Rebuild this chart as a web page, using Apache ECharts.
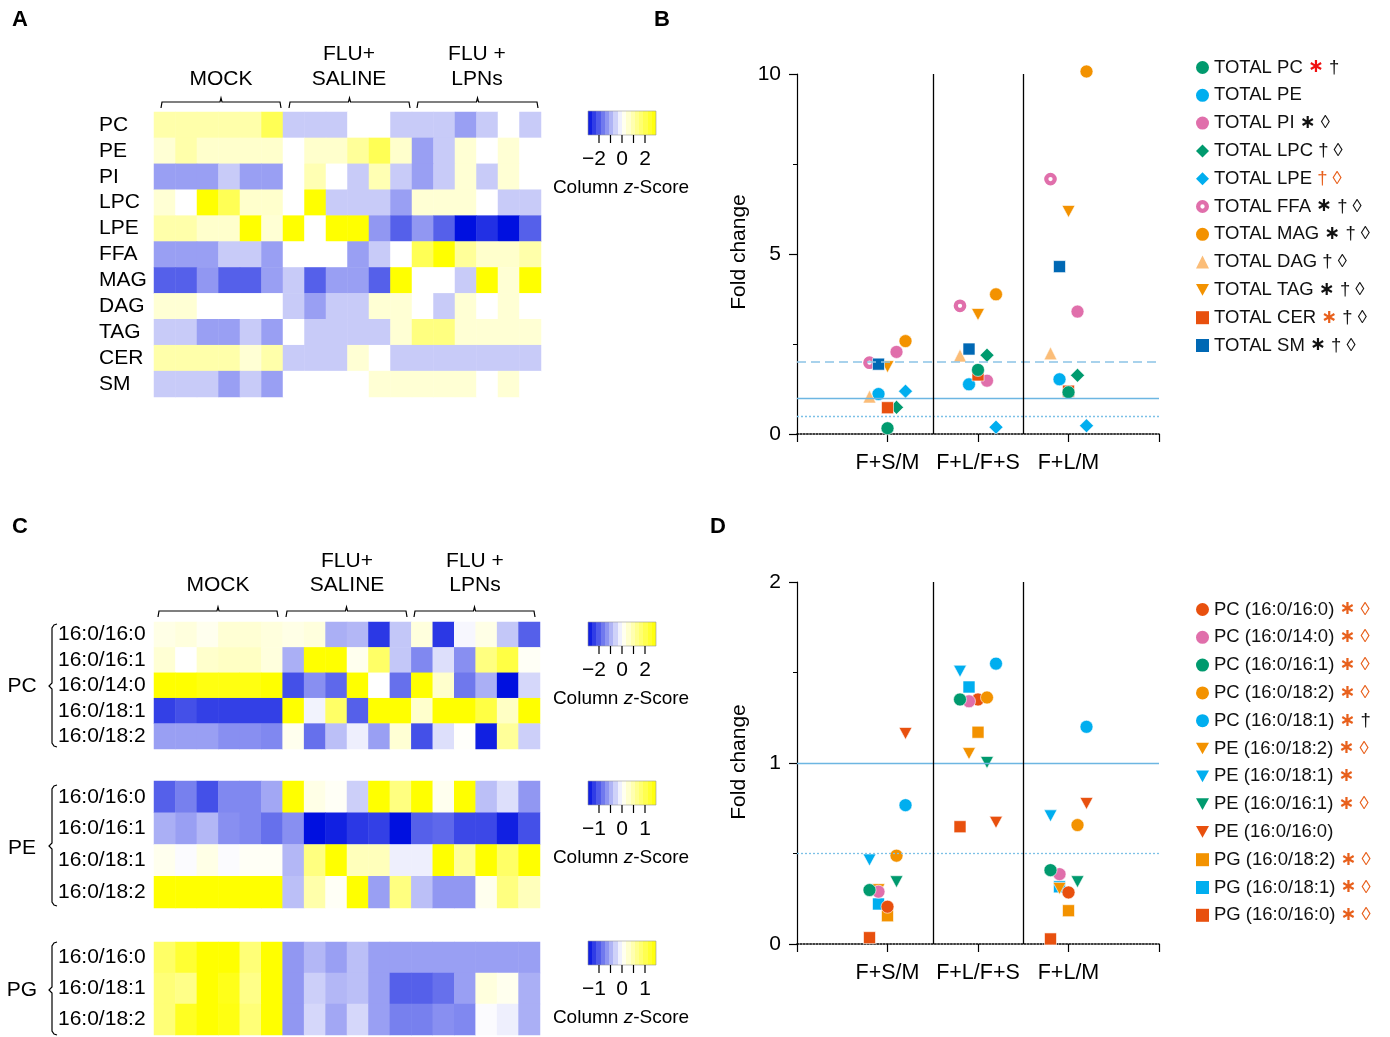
<!DOCTYPE html>
<html><head><meta charset="utf-8">
<script src="https://cdn.jsdelivr.net/npm/echarts@6/dist/echarts.min.js"></script>
<style>html,body{margin:0;padding:0;background:#fff}#c{width:1390px;height:1037px}</style>
</head><body><div id="c"></div>
<script>
const FONT = "'Liberation Sans', Arial, Helvetica, sans-serif";

// ---------- DATA ----------
const samples = ['M1','M2','M3','M4','M5','M6','S1','S2','S3','S4','S5','S6','L1','L2','L3','L4','L5','L6'];
const groupHeaders = ['MOCK', 'FLU+\nSALINE', 'FLU +\nLPNs'];

// Panel A: lipid classes, column z-scores
const classRows = ['PC','PE','PI','LPC','LPE','FFA','MAG','DAG','TAG','CER','SM'];
const zPC  = [1,1,1,1,1,2, -0.65,-0.65,-0.65,0,0,-0.65, -0.65,-0.65,-1.2,-0.65,0,-0.65];
const zPE  = [0.5,1,0.6,0.6,0.6,0.6, 0,0.6,0.6,1.2,2,0.6, -1.2,-0.65,0.5,0,0.5,0];
const zPI  = [-1.2,-1.2,-1.2,-0.65,-1.2,-1.2, 0,0.9,0,-0.65,0.9,-0.65, -1.2,-0.65,0.5,-0.65,0.5,0];
const zLPC = [0.5,0,3,2,0.6,0.6, 0,3,-0.65,-0.65,-0.65,-1.2, 0.5,0.5,0.5,0,-0.65,-0.65];
const zLPE = [1,1,0.6,0.6,3,0.5, 3,0,3,3,-1.3,-2, -1.3,-2,-3,-2.6,-3,-2];
const zFFA = [-1.2,-1.2,-1.2,-0.65,-0.65,-1.2, 0,0,0,-1.2,-0.65,0, 2,3,1.2,0.6,0.6,1];
const zMAG = [-2,-2,-1.3,-2,-2,-1.2, -0.65,-2,-1.2,-1.2,-2,3, 0,0,-0.65,3,0.5,3];
const zDAG = [0.5,0.5,0,0,0,0, -0.65,-1.2,-0.65,-0.65,0.5,0.5, 0,-0.65,0.5,0,0.5,0];
const zTAG = [-0.65,-0.65,-1.2,-1.2,-0.65,-1.2, 0,-0.65,-0.65,-0.65,-0.65,0.5, 1.5,1.5,0.5,0.5,0.5,0.5];
const zCER = [1,1,1,1,0.5,1, -0.65,-0.65,-0.65,0.5,0,-0.65, -0.65,-0.65,-0.65,-0.65,-0.65,-0.65];
const zSM  = [-0.65,-0.65,-0.65,-1.2,-0.65,-1.2, 0,0,0,0,0.5,0.5, 0.5,0.5,0.5,0,0.5,0];

// Panel C: species
const pcSpecies = ['16:0/16:0','16:0/16:1','16:0/14:0','16:0/18:1','16:0/18:2'];
const zPC1 = [0.3,0.4,0.2,0.5,0.5,0.4, 0.3,0.4,-1.0,-0.9,-2.5,-0.7, 0.4,-2.5,-0.1,0.3,-0.7,-2.0];
const zPC2 = [0.5,0,0.6,0.7,0.7,0.4, -1.0,3,3,0.2,1.8,-0.7, -1.5,-0.4,-1.4,1.5,2.2,0.1];
const zPC3 = [3,3,2.8,2.8,2.8,3, -2.2,-1.4,-1.9,3,0,-1.8, 3,0.6,-1.7,-1.0,-3,-0.5];
const zPC4 = [-2.4,-2.2,-2.4,-2.4,-2.4,-2.4, 3,-0.15,1.8,-2.0,3,3, 0.6,3,3,2.2,0.7,3];
const zPC5 = [-1.2,-1.2,-1.2,-1.4,-1.4,-1.5, 0.2,-1.8,-0.8,-0.2,-1.2,0.5, -2.2,-0.4,0.05,-2.8,1.2,-0.6];
const peSpecies = ['16:0/16:0','16:0/16:1','16:0/18:1','16:0/18:2'];
const zPE1 = [-2.0,-1.6,-2.2,-1.5,-1.5,-1.1, 3,0.3,0.1,-0.6,3,1.5, 3,0.2,3,-0.8,-0.4,-1.3];
const zPE2 = [-1.0,-1.2,-0.9,-1.4,-1.5,-1.8, -1.4,-3,-2.8,-2.5,-2.4,-3, -2.0,-1.9,-2.3,-2.3,-2.8,-2.2];
const zPE3 = [0.2,-0.05,0.3,-0.05,0.1,0.1, -0.9,1.5,3,0.8,0.8,-0.2, -0.2,3,1.2,3,1.8,3];
const zPE4 = [3,3,3,3,3,3, -0.8,1.0,0.1,3,-1.2,1.5, -0.8,-1.3,-1.3,0.2,1.5,0.8];
const pgSpecies = ['16:0/16:0','16:0/18:1','16:0/18:2'];
const zPG1 = [1.8,2.4,3,3,1.6,3, -1.3,-0.9,-1.2,-0.8,-1.2,-1.2, -1.2,-1.2,-1.2,-1.2,-1.2,-1.2];
const zPG2 = [1.6,1.4,3,2.7,1.4,3, -1.3,-0.6,-0.9,-0.8,-1.2,-2.0, -2.0,-1.8,-1.2,0.4,0.2,-1.0];
const zPG3 = [1.6,2.6,3,2.8,1.6,3, -1.3,-0.5,-1.1,-0.5,-1.2,-1.6, -1.6,-1.4,-1.5,-0.05,-0.2,-1.0];
const zTicksAB = ['\u22122','0','2'];
const zTicksPE = ['\u22121','0','1'];

// Panels B / D: fold changes
const foldGroups = ['F+S/M','F+L/F+S','F+L/M'];
const namesB = ['TOTAL PC','TOTAL PE','TOTAL PI','TOTAL LPC','TOTAL LPE','TOTAL FFA','TOTAL MAG','TOTAL DAG','TOTAL TAG','TOTAL CER','TOTAL SM'];
const fcTotalPC  = [0.16, 1.78, 1.16];
const fcTotalPE  = [1.11, 1.38, 1.52];
const fcTotalPI  = [2.28, 1.48, 3.40];
const fcTotalLPC = [0.74, 2.19, 1.63];
const fcTotalLPE = [1.19, 0.19, 0.23];
const fcTotalFFA = [1.98, 3.56, 7.08];
const fcTotalMAG = [2.58, 3.88, 10.07];
const fcTotalDAG = [1.04, 2.18, 2.24];
const fcTotalTAG = [1.87, 3.32, 6.18];
const fcTotalCER = [0.73, 1.64, 1.19];
const fcTotalSM  = [1.94, 2.36, 4.65];
const marksB = [' {red|\u2217} \u2020', '', ' {k|\u2217} \u25CA', ' \u2020 \u25CA', ' {ol|\u2020 \u25CA}', ' {k|\u2217} \u2020 \u25CA', ' {k|\u2217} \u2020 \u25CA', ' \u2020 \u25CA', ' {k|\u2217} \u2020 \u25CA', ' {or|\u2217} \u2020 \u25CA', ' {k|\u2217} \u2020 \u25CA'];

const namesD = ['PC (16:0/16:0)','PC (16:0/14:0)','PC (16:0/16:1)','PC (16:0/18:2)','PC (16:0/18:1)','PE (16:0/18:2)','PE (16:0/18:1)','PE (16:0/16:1)','PE (16:0/16:0)','PG (16:0/18:2)','PG (16:0/18:1)','PG (16:0/16:0)'];
const fcPC160160 = [0.206, 1.351, 0.285];
const fcPC160140 = [0.289, 1.341, 0.386];
const fcPC160161 = [0.298, 1.351, 0.408];
const fcPC160182 = [0.488, 1.362, 0.657];
const fcPC160181 = [0.767, 1.549, 1.200];
const fcPE160182 = [0.300, 1.052, 0.307];
const fcPE160181 = [0.464, 1.507, 0.708];
const fcPE160161 = [0.344, 1.003, 0.344];
const fcPE160160 = [1.163, 0.672, 0.776];
const fcPG160182 = [0.156, 1.170, 0.184];
const fcPG160181 = [0.221, 1.420, 0.316];
const fcPG160160 = [0.035, 0.648, 0.028];
const marksD = [' {or|\u2217} {ol|\u25CA}',' {or|\u2217} {ol|\u25CA}',' {or|\u2217} {ol|\u25CA}',' {or|\u2217} {ol|\u25CA}',' {or|\u2217} \u2020',' {or|\u2217} {ol|\u25CA}',' {or|\u2217}',' {or|\u2217} {ol|\u25CA}','',' {or|\u2217} {ol|\u25CA}',' {or|\u2217} {ol|\u25CA}',' {or|\u2217} {ol|\u25CA}'];

// ---------- STYLE ----------
const C = {green:'#009a6e', cyan:'#00aeef', pink:'#e06fab', orange:'#f39200', lorange:'#fbbd78', red:'#e8500e', blue:'#0068b4'};
const DOWN = 'path://M0,0L10,0L5,9Z';
const RING = 'path://M6,0A6,6 0 1,1 6,12A6,6 0 1,1 6,0ZM6,4A2,2 0 1,0 6,8A2,2 0 1,0 6,4Z';
const stylesB = [
  {c:C.green, s:'circle', z:13, slot:0},
  {c:C.cyan, s:'circle', z:13, slot:-1},
  {c:C.pink, s:'circle', z:13, slot:1},
  {c:C.green, s:'diamond', z:14, slot:1},
  {c:C.cyan, s:'diamond', z:14, slot:2},
  {c:C.pink, s:'circle', z:8.5, slot:-2, ring:true},
  {c:C.orange, s:'circle', z:13, slot:2},
  {c:C.lorange, s:'triangle', z:13, slot:-2},
  {c:C.orange, s:DOWN, z:[13,12], slot:0},
  {c:C.red, s:'rect', z:12, slot:0},
  {c:C.blue, s:'rect', z:12, slot:-1}
];
const drawOrderB = [1,2,3,4,5,6,7,8,9,10,0];
const stylesD = [
  {c:C.red, s:'circle', z:13, slot:0},
  {c:C.pink, s:'circle', z:13, slot:-1},
  {c:C.green, s:'circle', z:13, slot:-2},
  {c:C.orange, s:'circle', z:13, slot:1},
  {c:C.cyan, s:'circle', z:13, slot:2},
  {c:C.orange, s:DOWN, z:[13,12], slot:-1},
  {c:C.cyan, s:DOWN, z:[13,12], slot:-2},
  {c:C.green, s:DOWN, z:[13,12], slot:1},
  {c:C.red, s:DOWN, z:[13,12], slot:2},
  {c:C.orange, s:'rect', z:12, slot:0},
  {c:C.cyan, s:'rect', z:12, slot:-1},
  {c:C.red, s:'rect', z:12, slot:-2}
];
const drawOrderD = [9,10,11,5,6,7,8,0,1,2,3,4];

const valuesB = [fcTotalPC,fcTotalPE,fcTotalPI,fcTotalLPC,fcTotalLPE,fcTotalFFA,fcTotalMAG,fcTotalDAG,fcTotalTAG,fcTotalCER,fcTotalSM];
const valuesD = [fcPC160160,fcPC160140,fcPC160161,fcPC160182,fcPC160181,fcPE160182,fcPE160181,fcPE160161,fcPE160160,fcPG160182,fcPG160181,fcPG160160];

const heatBlocks = [
  {rows: classRows, z:[zPC,zPE,zPI,zLPC,zLPE,zFFA,zMAG,zDAG,zTAG,zCER,zSM], grid:{left:154, top:112, width:387, height:285}, margin:55},
  {rows: pcSpecies, z:[zPC1,zPC2,zPC3,zPC4,zPC5], grid:{left:154, top:622, width:386, height:127}, margin:96},
  {rows: peSpecies, z:[zPE1,zPE2,zPE3,zPE4], grid:{left:154, top:781, width:386, height:127}, margin:96},
  {rows: pgSpecies, z:[zPG1,zPG2,zPG3], grid:{left:154, top:942, width:386, height:93}, margin:96}
];

// ---------- OPTION ----------
const grids = [], xAxes = [], yAxes = [], series = [];
heatBlocks.forEach((b, i) => {
  grids.push(b.grid);
  xAxes.push({type:'category', gridIndex:i, data:samples, show:false});
  yAxes.push({type:'category', gridIndex:i, data:b.rows, inverse:true,
    axisLine:{show:false}, axisTick:{show:false},
    axisLabel:{interval:0, align:'left', margin:b.margin, fontFamily:FONT, fontSize:21, color:'#000'}});
  const data = [];
  b.z.forEach((row, r) => row.forEach((v, c) => data.push([c, r, v])));
  series.push({type:'heatmap', xAxisIndex:i, yAxisIndex:i, data, itemStyle:{borderWidth:0}, emphasis:{disabled:true}});
});

function scatterAxes(gi, max, interval) {
  xAxes.push({type:'value', gridIndex:gi, min:0, max:4, interval:1,
    axisLine:{show:true, lineStyle:{color:'#000', type:'dotted', width:1.6}},
    axisTick:{show:true, length:8, lineStyle:{color:'#000', width:1.2}},
    splitLine:{show:false},
    axisLabel:{margin:18, fontFamily:FONT, fontSize:21.5, color:'#000',
      formatter: v => foldGroups[v - 1] || ''}});
  yAxes.push({type:'value', gridIndex:gi, min:0, max, interval,
    axisLine:{show:true, lineStyle:{color:'#000', width:1.2}},
    axisTick:{show:true, length:8, lineStyle:{color:'#000', width:1.2}},
    minorTick:{show:true, splitNumber:2, length:4, lineStyle:{color:'#000', width:1}},
    splitLine:{show:false},
    axisLabel:{margin:16, fontFamily:FONT, fontSize:21, color:'#000'}});
}
grids.push({left:797, top:74, width:362, height:360});
scatterAxes(4, 10, 5);
grids.push({left:797, top:582, width:362, height:362});
scatterAxes(5, 2, 1);

const refBlue = '#6db6e2';
function refLines(hLines) {
  return {symbol:'none', silent:true, label:{show:false}, animation:false,
    data: hLines.concat([
      {xAxis:1.5, lineStyle:{color:'#000', type:'solid', width:1.3}},
      {xAxis:2.5, lineStyle:{color:'#000', type:'solid', width:1.3}}
    ])};
}
function addScatter(names, values, styles, order, gi, hLines) {
  order.forEach((k, n) => {
    const st = styles[k];
    const s = {type:'scatter', name:names[k], xAxisIndex:gi, yAxisIndex:gi,
      symbol:st.s, symbolSize:st.z, symbolOffset:[st.slot * 9, 0], clip:false,
      data: values[k].map((v, i) => [i + 1, v]),
      itemStyle: st.ring ? {color:'#fff', borderColor:st.c, borderWidth:4.2, opacity:1}
                         : {color:st.c, borderColor:'#fff', borderWidth:0.6, opacity:1},
      emphasis:{disabled:true}};
    if (n === 0) s.markLine = refLines(hLines);
    series.push(s);
  });
}
addScatter(namesB, valuesB, stylesB, drawOrderB, 4, [
  {yAxis:2, lineStyle:{color:'#8cc4e6', type:[9,5], width:1.5}},
  {yAxis:1, lineStyle:{color:refBlue, type:'solid', width:1.3}},
  {yAxis:0.5, lineStyle:{color:'#7cc0e6', type:[2,2], width:1.3}}
]);
addScatter(namesD, valuesD, stylesD, drawOrderD, 5, [
  {yAxis:1, lineStyle:{color:refBlue, type:'solid', width:1.3}},
  {yAxis:0.5, lineStyle:{color:'#7cc0e6', type:[2,2], width:1.3}}
]);

const richMarks = {
  red:{color:'#f01010', fontSize:19, fontWeight:'bold', fontFamily:'DejaVu Sans'},
  or:{color:'#e8601c', fontSize:19, fontWeight:'bold', fontFamily:'DejaVu Sans'},
  ol:{color:'#e8601c', fontSize:18.5, fontFamily:FONT},
  k:{color:'#111', fontSize:19, fontWeight:'bold', fontFamily:'DejaVu Sans'}
};
function mkLegend(names, styles, marks, top) {
  return {orient:'vertical', left:1196, top, itemWidth:13, itemHeight:13, itemGap:8.8,
    selectedMode:false, padding:0, itemStyle:{borderWidth:0},
    data: names.map((n, k) => {
      const d = {name:n};
      if (styles[k].ring) { d.icon = RING; d.itemStyle = {color:styles[k].c, borderWidth:0}; }
      return d;
    }),
    formatter: n => n + marks[names.indexOf(n)],
    textStyle:{fontFamily:FONT, fontSize:18.5, color:'#111', rich:richMarks}};
}

// ---------- GRAPHICS (labels, brackets, colour keys) ----------
const g = [];
function txt(x, y, text, size, extra, rot) {
  const el = {type:'text', x, y, silent:true,
    style:Object.assign({text, font:size + 'px ' + FONT, fill:'#000', align:'center', verticalAlign:'middle', textAlign:'center', textVerticalAlign:'middle'}, extra || {})};
  if (rot) el.rotation = rot;
  g.push(el);
}
function bracket(x1, x2, y) {
  const m = (x1 + x2) / 2;
  g.push({type:'polyline', silent:true, shape:{points:[[x1, y + 6], [x1 + 1, y], [m - 1, y], [m, y - 4], [m + 1, y], [x2 - 1, y], [x2, y + 6]]},
    style:{stroke:'#000', lineWidth:1.2, fill:null}});
}
function headers(centers, yTop, yBottom, bx, by) {
  txt(centers[0], yBottom, groupHeaders[0], 21);
  groupHeaders.slice(1).forEach((h, i) => {
    const parts = h.split('\n');
    txt(centers[i + 1], yTop, parts[0], 21);
    txt(centers[i + 1], yBottom, parts[1], 21);
  });
  bx.forEach(p => bracket(p[0], p[1], by));
}
function lerp(a, b, t) { return Math.round(a + (b - a) * t); }
function zColor(v) {
  const t = Math.max(-1, Math.min(1, v / 3));
  if (t < 0) { const u = -t; return `rgb(${lerp(255,0,u)},${lerp(255,16,u)},${lerp(255,224,u)})`; }
  return `rgb(255,255,${lerp(255,0,t)})`;
}
function colorKey(top, labels) {
  const steps = 16, stops = [];
  for (let i = 0; i < steps; i++) {
    const v = -3 + (i + 0.5) * 6 / steps, col = zColor(v);
    stops.push({offset:i / steps, color:col}, {offset:(i + 1) / steps, color:col});
  }
  g.push({type:'rect', silent:true, shape:{x:588, y:top, width:68, height:24},
    style:{fill:{type:'linear', x:0, y:0, x2:1, y2:0, colorStops:stops}, stroke:'#999', lineWidth:0.6}});
  [599, 610.5, 622, 633.5, 645].forEach(x => g.push({type:'line', silent:true,
    shape:{x1:x, y1:top + 24, x2:x, y2:top + 32}, style:{stroke:'#000', lineWidth:1.2}}));
  txt(606, top + 48, labels[0], 21, {align:'right', textAlign:'right'});
  txt(622, top + 48, labels[1], 21);
  txt(645, top + 48, labels[2], 21);
  g.push({type:'text', x:621, y:top + 77, silent:true, style:{
    text:'{n|Column }{i|z}{n|-Score}', align:'center', verticalAlign:'middle', textAlign:'center', textVerticalAlign:'middle',
    rich:{n:{font:'19px ' + FONT, fill:'#000'}, i:{font:'italic 19px ' + FONT, fill:'#000'}}}});
}
function brace(x, y1, y2, ym) {
  g.push({type:'polyline', silent:true, shape:{points:[
    [x + 5, y1], [x + 2, y1 + 1], [x, y1 + 4], [x, ym - 3], [x - 3, ym], [x, ym + 3], [x, y2 - 4], [x + 2, y2 - 1], [x + 5, y2]]},
    style:{stroke:'#000', lineWidth:1.2, fill:null}});
}

txt(20, 20, 'A', 22, {font:'bold 22px ' + FONT});
txt(662, 20, 'B', 22, {font:'bold 22px ' + FONT});
txt(20, 527, 'C', 22, {font:'bold 22px ' + FONT});
txt(718, 527, 'D', 22, {font:'bold 22px ' + FONT});
headers([221, 349, 477], 54, 79, [[161, 281], [289, 410], [417, 538]], 102);
headers([218, 347, 475], 561, 585, [[158, 278], [286, 407], [414, 535]], 611);
colorKey(111, zTicksAB);
colorKey(622, zTicksAB);
colorKey(781, zTicksPE);
colorKey(941, zTicksPE);
txt(22, 686, 'PC', 21);
txt(22, 848, 'PE', 21);
txt(22, 990, 'PG', 21);
brace(52, 624, 747, 686);
brace(52, 785, 906, 846);
brace(52, 942, 1035, 990);
txt(739, 252, 'Fold change', 21, null, Math.PI / 2);
txt(739, 762, 'Fold change', 21, null, Math.PI / 2);

const option = {
  animation:false,
  backgroundColor:'#fff',
  textStyle:{fontFamily:FONT},
  grid:grids, xAxis:xAxes, yAxis:yAxes, series,
  visualMap:{type:'continuous', show:false, min:-3, max:3, seriesIndex:[0,1,2,3],
    inRange:{color:['#0010e0', '#ffffff', '#ffff00']}},
  legend:[mkLegend(namesB, stylesB, marksB, 58), mkLegend(namesD, stylesD, marksD, 600)],
  graphic:{elements:g}
};
const chart = echarts.init(document.getElementById('c'), null, {renderer:'canvas'});
chart.setOption(option);
</script></body></html>
